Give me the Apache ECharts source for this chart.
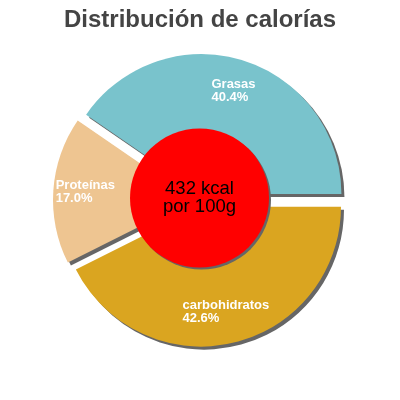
<!DOCTYPE html>
<html>
<head>
<meta charset="utf-8">
<script src="https://cdn.jsdelivr.net/npm/echarts@6/dist/echarts.min.js"></script>
<style>
  html, body { margin: 0; padding: 0; background: #fff; }
  #chart { width: 400px; height: 400px; }
</style>
</head>
<body>
<div id="chart"></div>
<script>
// datos del gráfico
const categorias = ['Grasas', 'Proteínas', 'carbohidratos'];
const porcentajes = [40.4, 17.0, 42.6];
const colores = ['#79C3CC', '#EEC591', '#DAA520'];
const titulo = 'Distribución de calorías';
const textoCentro = ['432 kcal', 'por 100g'];

const chart = echarts.init(document.getElementById('chart'), null, { renderer: 'canvas' });

const fuente = 'Liberation Sans, Arial, sans-serif';

// sectores (pie completo, con sombra)
const sectores = categorias.map((nombre, i) => ({
  name: nombre,
  value: porcentajes[i],
  selected: true,
  itemStyle: { color: colores[i] }
}));

// mismas porciones, transparentes, solo para las etiquetas
const etiquetas = categorias.map((nombre, i) => ({
  name: nombre,
  value: porcentajes[i],
  selected: true
}));

const pieBase = {
  type: 'pie',
  center: [199.5, 200.3],
  startAngle: 0,
  clockwise: false,
  selectedMode: 'multiple',
  selectedOffset: 6.5,
  silent: true,
  labelLine: { show: false }
};

const option = {
  animation: false,
  title: {
    text: titulo,
    left: 'center',
    top: 3,
    textStyle: {
      fontFamily: fuente,
      fontSize: 24,
      fontWeight: 'bold',
      color: '#444444'
    }
  },
  series: [
    Object.assign({}, pieBase, {
      z: 1,
      radius: [0, 140],
      itemStyle: {
        shadowColor: '#666666',
        shadowBlur: 0,
        shadowOffsetX: 3,
        shadowOffsetY: 3
      },
      label: { show: false },
      data: sectores
    }),
    {
      // círculo rojo central
      type: 'pie',
      z: 3,
      center: [199.5, 198],
      radius: [0, 69.5],
      silent: true,
      itemStyle: {
        color: '#FF0000',
        shadowColor: '#666666',
        shadowBlur: 0,
        shadowOffsetX: 2,
        shadowOffsetY: 2
      },
      label: {
        position: 'center',
        formatter: textoCentro.join('\n'),
        color: '#000000',
        fontFamily: fuente,
        fontSize: 18.5,
        lineHeight: 18
      },
      labelLine: { show: false },
      data: [{ name: 'kcal', value: 1 }]
    },
    Object.assign({}, pieBase, {
      z: 4,
      radius: [70, 140],
      itemStyle: { color: 'rgba(0,0,0,0)' },
      label: {
        position: 'inside',
        formatter: p => '{a|' + p.name + '}\n{a|' + p.value.toFixed(1) + '%}',
        rich: {
          a: {
            align: 'left',
            color: '#ffffff',
            fontFamily: fuente,
            fontSize: 13,
            fontWeight: 'bold',
            lineHeight: 13
          }
        }
      },
      data: etiquetas
    })
  ]
};

chart.setOption(option);
</script>
</body>
</html>
